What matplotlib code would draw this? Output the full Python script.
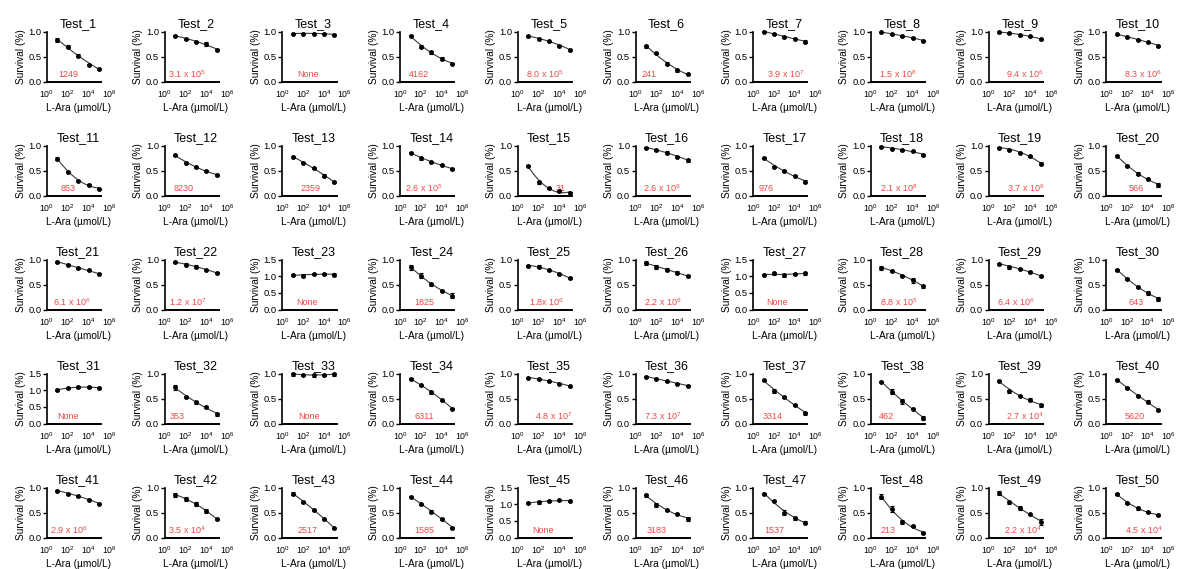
import numpy as np
import matplotlib
matplotlib.use("Agg")
import matplotlib.pyplot as plt
from matplotlib.ticker import NullLocator, FixedLocator, FixedFormatter
from matplotlib.transforms import blended_transform_factory

plt.rcParams['font.family'] = ['Liberation Sans', 'DejaVu Sans']
plt.rcParams['mathtext.fontset'] = 'custom'
plt.rcParams['mathtext.rm'] = 'Liberation Sans'
plt.rcParams['mathtext.it'] = 'Liberation Sans:italic'
plt.rcParams['mathtext.bf'] = 'Liberation Sans:bold'

# ---------------- data ----------------
conc = [10, 100, 1000, 10000, 100000]   # L-Ara (umol/L)
titles = [f"Test_{i}" for i in range(1, 51)]

survival = [
    [0.83, 0.70, 0.52, 0.34, 0.26], [0.92, 0.85, 0.80, 0.75, 0.64],
    [0.96, 0.96, 0.96, 0.96, 0.94], [0.92, 0.70, 0.59, 0.46, 0.36],
    [0.91, 0.86, 0.81, 0.72, 0.64], [0.71, 0.57, 0.36, 0.23, 0.15],
    [1.00, 0.96, 0.89, 0.86, 0.80], [0.99, 0.95, 0.91, 0.88, 0.82],
    [0.99, 0.97, 0.93, 0.91, 0.85], [0.95, 0.89, 0.84, 0.79, 0.72],
    [0.74, 0.48, 0.30, 0.22, 0.14], [0.81, 0.66, 0.57, 0.50, 0.41],
    [0.78, 0.66, 0.55, 0.40, 0.27], [0.86, 0.75, 0.67, 0.62, 0.53],
    [0.60, 0.27, 0.15, 0.09, 0.06], [0.96, 0.91, 0.86, 0.78, 0.71],
    [0.76, 0.58, 0.49, 0.40, 0.28], [0.98, 0.94, 0.91, 0.89, 0.82],
    [0.96, 0.92, 0.86, 0.79, 0.64], [0.80, 0.60, 0.44, 0.33, 0.22],
    [0.96, 0.89, 0.83, 0.79, 0.71], [0.95, 0.90, 0.86, 0.80, 0.73],
    [1.03, 1.02, 1.06, 1.07, 1.05], [0.85, 0.68, 0.51, 0.38, 0.28],
    [0.88, 0.86, 0.79, 0.71, 0.63], [0.93, 0.86, 0.80, 0.74, 0.67],
    [1.04, 1.09, 1.03, 1.06, 1.09], [0.84, 0.78, 0.68, 0.59, 0.47],
    [0.92, 0.85, 0.82, 0.75, 0.67], [0.80, 0.62, 0.45, 0.33, 0.22],
    [1.01, 1.06, 1.09, 1.09, 1.07], [0.73, 0.53, 0.43, 0.34, 0.19],
    [0.99, 0.98, 0.97, 0.97, 0.99], [0.89, 0.77, 0.63, 0.47, 0.30],
    [0.92, 0.89, 0.85, 0.80, 0.75], [0.94, 0.90, 0.85, 0.80, 0.76],
    [0.87, 0.65, 0.53, 0.38, 0.21], [0.84, 0.64, 0.45, 0.30, 0.12],
    [0.86, 0.65, 0.56, 0.48, 0.37], [0.88, 0.72, 0.55, 0.44, 0.27],
    [0.94, 0.88, 0.83, 0.76, 0.68], [0.86, 0.77, 0.67, 0.53, 0.37],
    [0.88, 0.72, 0.56, 0.37, 0.19], [0.82, 0.67, 0.52, 0.38, 0.20],
    [1.04, 1.06, 1.09, 1.12, 1.10], [0.85, 0.66, 0.55, 0.48, 0.38],
    [0.88, 0.74, 0.50, 0.39, 0.30], [0.82, 0.57, 0.31, 0.24, 0.10],
    [0.89, 0.71, 0.59, 0.47, 0.32], [0.87, 0.70, 0.59, 0.51, 0.45],
]

sem = [
    [0.04, 0.03, 0.03, 0.01, 0.02], [0.01, 0.01, 0.01, 0.04, 0.01],
    [0.01, 0.01, 0.01, 0.01, 0.01], [0.01, 0.03, 0.03, 0.03, 0.01],
    [0.01, 0.01, 0.01, 0.01, 0.02], [0.03, 0.01, 0.03, 0.03, 0.01],
    [0.01, 0.01, 0.02, 0.01, 0.03], [0.01, 0.01, 0.01, 0.01, 0.01],
    [0.01, 0.01, 0.02, 0.01, 0.01], [0.01, 0.01, 0.01, 0.01, 0.02],
    [0.03, 0.02, 0.01, 0.02, 0.02], [0.01, 0.02, 0.02, 0.01, 0.02],
    [0.02, 0.01, 0.01, 0.03, 0.02], [0.01, 0.03, 0.01, 0.02, 0.02],
    [0.01, 0.03, 0.01, 0.02, 0.01], [0.01, 0.01, 0.03, 0.01, 0.03],
    [0.01, 0.02, 0.02, 0.01, 0.03], [0.01, 0.01, 0.01, 0.01, 0.02],
    [0.01, 0.01, 0.01, 0.01, 0.03], [0.02, 0.01, 0.03, 0.02, 0.04],
    [0.02, 0.02, 0.01, 0.01, 0.02], [0.02, 0.03, 0.03, 0.01, 0.02],
    [0.03, 0.05, 0.02, 0.02, 0.04], [0.05, 0.05, 0.03, 0.02, 0.05],
    [0.02, 0.03, 0.01, 0.02, 0.02], [0.04, 0.04, 0.03, 0.03, 0.02],
    [0.04, 0.05, 0.04, 0.03, 0.05], [0.04, 0.02, 0.02, 0.05, 0.03],
    [0.02, 0.03, 0.01, 0.02, 0.02], [0.02, 0.02, 0.02, 0.04, 0.04],
    [0.03, 0.03, 0.03, 0.03, 0.04], [0.05, 0.02, 0.03, 0.02, 0.03],
    [0.03, 0.02, 0.03, 0.02, 0.03], [0.02, 0.01, 0.03, 0.01, 0.01],
    [0.01, 0.01, 0.01, 0.01, 0.01], [0.01, 0.01, 0.01, 0.01, 0.01],
    [0.01, 0.04, 0.02, 0.02, 0.03], [0.01, 0.05, 0.05, 0.01, 0.04],
    [0.01, 0.03, 0.01, 0.03, 0.03], [0.02, 0.02, 0.02, 0.03, 0.01],
    [0.01, 0.01, 0.01, 0.01, 0.01], [0.04, 0.04, 0.04, 0.04, 0.02],
    [0.03, 0.02, 0.02, 0.01, 0.01], [0.01, 0.01, 0.03, 0.02, 0.02],
    [0.03, 0.04, 0.03, 0.02, 0.04], [0.03, 0.04, 0.01, 0.01, 0.04],
    [0.02, 0.02, 0.05, 0.03, 0.03], [0.05, 0.06, 0.04, 0.02, 0.02],
    [0.04, 0.03, 0.04, 0.01, 0.06], [0.02, 0.02, 0.03, 0.02, 0.02],
]

ec_labels = [
    "1249", "3.1 x 10^5", "None", "4162", "8.0 x 10^5", "241", "3.9 x 10^7", "1.5 x 10^8", "9.4 x 10^6", "8.3 x 10^6",
    "853", "8230", "2359", "2.6 x 10^5", "31", "2.6 x 10^6", "976", "2.1 x 10^8", "3.7 x 10^6", "566",
    "6.1 x 10^6", "1.2 x 10^7", "None", "1825", "1.8x 10^6", "2.2 x 10^6", "None", "8.8 x 10^5", "6.4 x 10^6", "643",
    "None", "353", "None", "6311", "4.8 x 10^7", "7.3 x 10^7", "3314", "462", "2.7 x 10^4", "5620",
    "2.9 x 10^6", "3.5 x 10^4", "2517", "1585", "None", "3183", "1537", "213", "2.2 x 10^4", "4.5 x 10^4",
]

# horizontal centre of each red label, in decades of L-Ara
label_decade = [
    2.0, 2.1, 2.5, 1.85, 2.55, 1.3, 3.1, 2.6, 3.5, 3.45,
    2.0, 1.8, 2.7, 2.3, 4.1, 2.5, 1.2, 2.7, 3.6, 2.9,
    2.4, 2.2, 2.4, 2.3, 2.8, 2.6, 2.3, 2.7, 2.6, 2.85,
    2.0, 1.2, 2.6, 2.3, 3.4, 2.6, 1.9, 1.5, 3.5, 2.7,
    2.1, 2.1, 2.4, 2.3, 2.4, 2.0, 2.0, 1.6, 3.3, 3.6,
]

xticks = [1, 1e2, 1e4, 1e6]
xtick_labels = [r"$\mathregular{10^{0}}$", r"$\mathregular{10^{2}}$",
                r"$\mathregular{10^{4}}$", r"$\mathregular{10^{6}}$"]

# ---------------- layout ----------------
W, H, DPI = 1177, 569, 100
fig = plt.figure(figsize=(W / DPI, H / DPI), dpi=DPI)
fig.patch.set_facecolor("white")

AX_W, AX_H = 62.5, 50.0
X0, DX = 47.0, 117.7
Y0, DY = 31.5, 114.0
RED = "#F04848"


def fmt_label(s):
    if "^" in s:
        base, exp = s.split("^")
        return base + r"$^{\mathregular{" + exp + "}}$"
    return s


for i in range(50):
    r, c = divmod(i, 10)
    left = X0 + c * DX
    top = Y0 + r * DY
    ax = fig.add_axes([left / W, 1 - (top + AX_H) / H, AX_W / W, AX_H / H])
    y = np.array(survival[i])
    e = np.array(sem[i])
    ymax = 1.5 if y.max() > 1.0 else 1.0

    ax.set_xscale("log")
    ax.set_xlim(1, 1e6)
    ax.set_ylim(0, ymax)

    # fitted trend line (quadratic in log10 concentration, fitted to the points)
    lx = np.log10(conc)
    coef = np.polyfit(lx, y, 2)
    xs = np.linspace(lx.min(), lx.max(), 120)
    ax.plot(10 ** xs, np.polyval(coef, xs), color="#3a3a3a", lw=0.8, zorder=2,
            clip_on=False)
    ax.errorbar(conc, y, yerr=e, fmt="o", ms=2.5, color="black", mec="black",
                elinewidth=0.8, capsize=1.4, capthick=0.8, zorder=3, clip_on=False)

    for sp in ("top", "right"):
        ax.spines[sp].set_visible(False)
    ax.spines["left"].set_linewidth(1.2)
    ax.spines["bottom"].set_linewidth(1.4)
    ax.spines["bottom"].set_bounds(1, 1.6e5)

    ax.xaxis.set_major_locator(FixedLocator(xticks))
    ax.xaxis.set_major_formatter(FixedFormatter(xtick_labels))
    ax.xaxis.set_minor_locator(NullLocator())
    ax.tick_params(axis="x", length=0, pad=4.8, labelsize=6.3)
    yt = np.arange(0, ymax + 0.01, 0.5)
    ax.set_yticks(yt)
    ax.set_yticklabels([f"{v:.1f}" for v in yt])
    ax.tick_params(axis="y", length=3, width=1.0, pad=1, labelsize=6.8)

    ax.set_title(titles[i], fontsize=9, pad=3.5)
    ax.set_ylabel("Survival (%)", fontsize=7.3, labelpad=2)
    ax.set_xlabel("L-Ara (\u00b5mol/L)", fontsize=7.3, labelpad=2.0)

    tr = blended_transform_factory(ax.transData, ax.transAxes)
    ax.text(10 ** label_decade[i], 0.14, fmt_label(ec_labels[i]), transform=tr,
            ha="center", va="center", fontsize=6.5, color=RED)

fig.savefig("out.png", dpi=DPI, facecolor="white")
